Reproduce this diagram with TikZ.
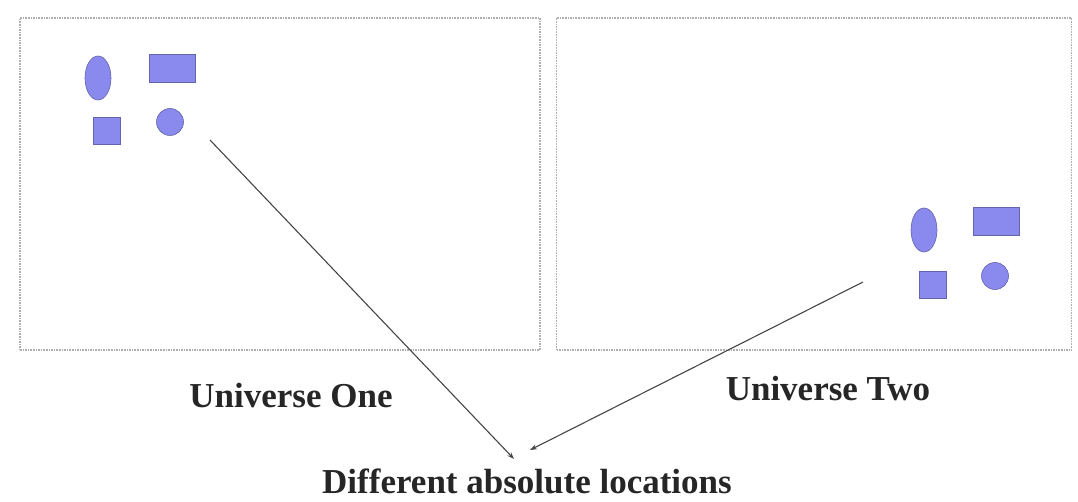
\documentclass[tikz,border=0pt]{standalone}
\usepackage{fontspec}
\setmainfont{Liberation Serif}
\usetikzlibrary{shapes.geometric,arrows.meta}
\definecolor{shapefill}{RGB}{138,138,238}
\definecolor{shapeedge}{RGB}{100,100,170}
\definecolor{framegray}{RGB}{175,175,175}
\definecolor{arrowgray}{RGB}{70,70,70}
\begin{document}
\begin{tikzpicture}[x=1pt,y=-1pt,
  frame/.style={draw=framegray,densely dotted,line width=1.6pt},
  obj/.style={fill=shapefill,draw=shapeedge,line width=0.6pt,inner sep=0pt},
  oval/.style={obj,ellipse,minimum width=26pt,minimum height=44pt},
  bar/.style={obj,rectangle,minimum width=46pt,minimum height=28pt},
  sq/.style={obj,rectangle,minimum width=27pt,minimum height=27pt},
  disc/.style={obj,circle,minimum size=27pt},
  lbl/.style={font=\fontsize{35}{40}\selectfont\bfseries,text=black!85,inner sep=0pt},
  conn/.style={draw=arrowgray,line width=1.1pt,-{Stealth[length=7pt,width=5pt]}}]
\useasboundingbox (0,0) rectangle (1078,502);
\node[frame,minimum width=520pt,minimum height=332pt,inner sep=0pt] (u1) at (280,184) {};
\node[frame,minimum width=515pt,minimum height=332pt,inner sep=0pt] (u2) at (814,184) {};
% universe one objects
\node[oval] (a1) at (98,78) {};
\node[bar] (b1) at (172,68) {};
\node[sq] (c1) at (107,131) {};
\node[disc] (d1) at (170,122) {};
% universe two objects
\node[oval] (a2) at (924,230) {};
\node[bar] (b2) at (996,221) {};
\node[sq] (c2) at (933,285) {};
\node[disc] (d2) at (995,276) {};
% labels
\node[lbl,anchor=base] (l1) at (291,407) {Universe One};
\node[lbl,anchor=base] (l2) at (828,400) {Universe Two};
\node[lbl,anchor=base] (l3) at (527,493) {Different absolute locations};
\coordinate (s1) at (210,140);
\coordinate (s2) at (863,282);
\coordinate (e1) at (514,459);
\coordinate (e2) at (530,450);
\draw[conn] (s1) -- (e1);
\draw[conn] (s2) -- (e2);
\end{tikzpicture}
\end{document}
